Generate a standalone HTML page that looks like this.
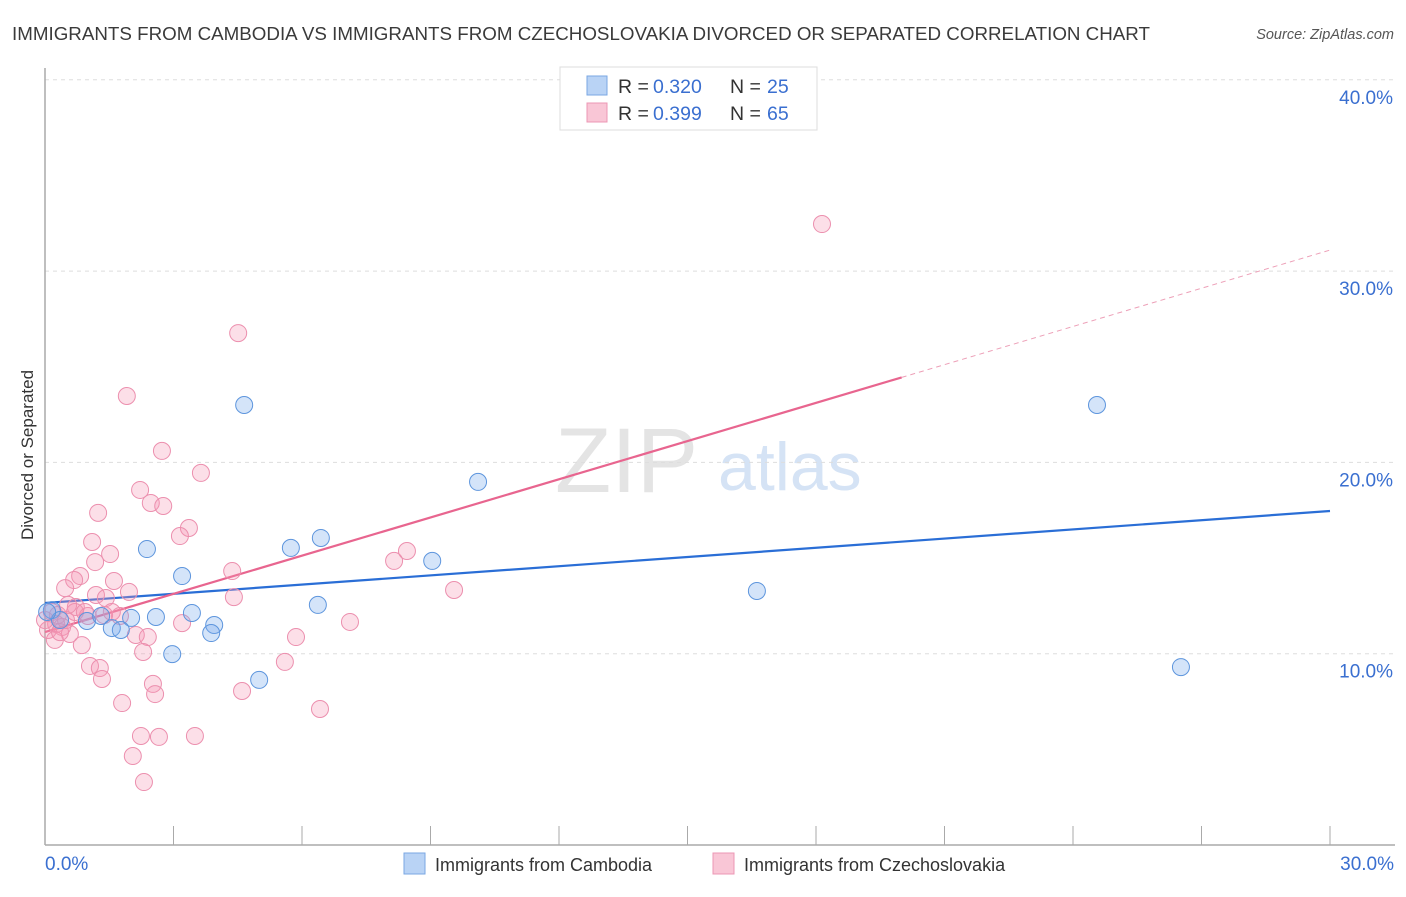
<!DOCTYPE html>
<html><head><meta charset="utf-8"><style>
body{margin:0;background:#fff;font-family:"Liberation Sans",sans-serif;}
svg text{font-family:"Liberation Sans",sans-serif;}
</style></head><body>
<svg id="chart" width="1406" height="892" xmlns="http://www.w3.org/2000/svg">
<text x="12" y="40" font-size="18" fill="#3a3a3a" textLength="1138" lengthAdjust="spacingAndGlyphs">IMMIGRANTS FROM CAMBODIA VS IMMIGRANTS FROM CZECHOSLOVAKIA DIVORCED OR SEPARATED CORRELATION CHART</text>
<text x="1394" y="39" font-size="14.5" fill="#555" text-anchor="end" font-style="italic">Source: ZipAtlas.com</text>
<text transform="translate(33,455) rotate(-90)" font-size="17" fill="#333" text-anchor="middle">Divorced or Separated</text>
<g><text x="555" y="492" font-size="92" fill="#e4e4e4" font-family="Liberation Serif">ZIP</text><text x="718" y="490" font-size="68" fill="#d5e3f5">atlas</text></g>
<g id="grid"></g><g id="axes"></g><g id="lines"></g><g id="pts"></g>
<g>
<rect x="560" y="67" width="257" height="63" fill="#fff" stroke="#ddd"/>
<rect x="587" y="76" width="20" height="19" fill="#b9d3f5" stroke="#7aa7e3"/>
<rect x="587" y="103" width="20" height="19" fill="#f9c6d6" stroke="#ec97b4"/>
<text x="618" y="93" font-size="19.5" fill="#333">R =</text><text x="653" y="93" font-size="19.5" fill="#3a6fd0">0.320</text>
<text x="730" y="93" font-size="19.5" fill="#333">N =</text><text x="767" y="93" font-size="19.5" fill="#3a6fd0">25</text>
<text x="618" y="120" font-size="19.5" fill="#333">R =</text><text x="653" y="120" font-size="19.5" fill="#3a6fd0">0.399</text>
<text x="730" y="120" font-size="19.5" fill="#333">N =</text><text x="767" y="120" font-size="19.5" fill="#3a6fd0">65</text>
</g>
<g>
<rect x="404" y="853" width="21" height="21" fill="#b9d3f5" stroke="#7aa7e3"/>
<text x="435" y="871" font-size="18" fill="#333">Immigrants from Cambodia</text>
<rect x="713" y="853" width="21" height="21" fill="#f9c6d6" stroke="#ec97b4"/>
<text x="744" y="871" font-size="18" fill="#333">Immigrants from Czechoslovakia</text>
</g>
</svg>
<script>
const yTicks=[10,20,30,40];
const yTickLabels=["10.0%","20.0%","30.0%","40.0%"];
const xTickLabels=["0.0%","30.0%"];
const blueX=[4.65,24.56,10.11,2.38,5.74,6.44,9.04,3.20,16.62,6.37,3.43,2.59,2.01,3.95,3.88,2.97,5.00,26.52,0.98,1.31,1.56,1.77,0.16,0.35,0.05];
const blueY=[23.0,23.0,18.98,15.47,15.53,16.05,14.85,14.06,13.28,12.55,12.13,11.92,11.87,11.50,11.08,9.98,8.63,9.30,11.71,11.97,11.34,11.24,12.28,11.76,12.18];
const pinkX=[18.14,4.51,1.91,2.73,3.64,2.22,2.47,2.76,1.24,3.36,3.15,1.10,1.52,1.17,8.45,8.15,4.37,0.82,0.68,1.61,0.47,1.96,1.19,4.41,1.42,9.55,0.72,0.16,1.75,1.38,1.00,7.12,3.20,0.26,0.40,0.07,0.58,2.12,2.40,5.86,0.23,0.86,2.29,1.05,1.28,5.60,1.33,2.52,2.57,4.60,1.80,6.42,2.24,2.66,3.50,2.05,2.31,0.35,0.30,0.49,0.70,0.0,1.56,0.54,0.93];
const pinkY=[32.46,26.76,23.47,20.60,19.45,18.56,17.88,17.72,17.36,16.57,16.15,15.84,15.21,14.79,15.37,14.85,14.32,14.06,13.85,13.80,13.43,13.23,13.07,12.96,12.91,13.33,12.44,12.18,11.97,12.02,11.97,11.66,11.60,11.55,11.40,11.24,11.03,10.98,10.87,10.87,10.72,10.45,10.09,9.36,9.25,9.57,8.68,8.42,7.89,8.05,7.42,7.11,5.70,5.65,5.70,4.65,3.29,11.13,12.02,11.76,12.18,11.76,12.18,12.55,12.18];
const blueFit=[12.65,17.46];
const pinkFit=[11.13,31.1];
const pinkSolidEnd=20.0;
const NS="http://www.w3.org/2000/svg";
const X=v=>45+v*(1285/30), Y=v=>845-v*19.13;
function mk(t,a,p){const e=document.createElementNS(NS,t);for(const k in a)e.setAttribute(k,a[k]);document.getElementById(p).appendChild(e);return e;}
yTicks.forEach((t,i)=>{
 const g=mk('line',{x1:45,x2:1395,y1:Y(t),y2:Y(t),stroke:'#ddd','stroke-dasharray':'4,4'},'grid');
 
 
 const l=mk('text',{x:1393,y:Y(t)+24,'font-size':19,fill:'#3a6fd0','text-anchor':'end'},'axes');
 l.textContent=yTickLabels[i];
 
 
});
const ax=mk('line',{x1:45,x2:1395,y1:845,y2:845,stroke:'#aaa','stroke-width':1.5},'axes');


const ay=mk('line',{x1:45,x2:45,y1:68,y2:845,stroke:'#aaa','stroke-width':1.5},'axes');


for(let i=1;i<=10;i++){const t=mk('line',{x1:X(i*3),x2:X(i*3),y1:826,y2:845,stroke:'#aaa'},'axes');
 
 }
[[0,'start',45],[30,'end',1394]].forEach((d,i)=>{const l=mk('text',{x:d[2],y:870,'font-size':19,fill:'#3a6fd0','text-anchor':d[1]},'axes');l.textContent=xTickLabels[i];
 
 });
const bl=mk('line',{x1:X(0),y1:Y(blueFit[0]),x2:X(30),y2:Y(blueFit[1]),stroke:'#2a6ed6','stroke-width':2.2},'lines');


const pf=v=>pinkFit[0]+(pinkFit[1]-pinkFit[0])*v/30;
const pl=mk('line',{x1:X(0),y1:Y(pf(0)),x2:X(pinkSolidEnd),y2:Y(pf(pinkSolidEnd)),stroke:'#e8658f','stroke-width':2.2},'lines');


const pd=mk('line',{x1:X(pinkSolidEnd),y1:Y(pf(pinkSolidEnd)),x2:X(30),y2:Y(pf(30)),stroke:'#eda0b8','stroke-width':1,'stroke-dasharray':'5,4'},'lines');


pinkX.forEach((x,i)=>{const c=mk('circle',{cx:X(x),cy:Y(pinkY[i]),r:8.5,fill:'rgba(244,150,180,0.3)',stroke:'#ec8fae','stroke-width':1},'pts');
 
 });
blueX.forEach((x,i)=>{const c=mk('circle',{cx:X(x),cy:Y(blueY[i]),r:8.5,fill:'rgba(120,170,235,0.32)',stroke:'#5d95dd','stroke-width':1},'pts');
 
 });
</script>
</body></html>
